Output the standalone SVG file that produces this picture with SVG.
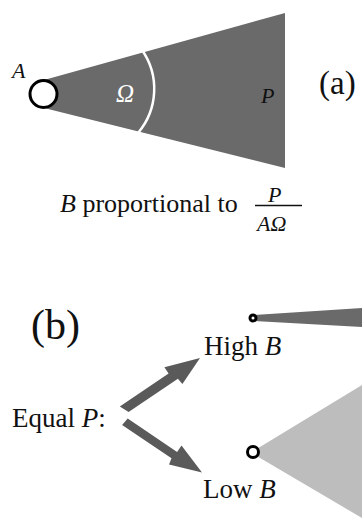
<svg xmlns="http://www.w3.org/2000/svg" width="362" height="523" viewBox="0 0 362 523" font-family="'Liberation Serif', 'Times New Roman', serif">
<style>
text{font-family:"Liberation Serif","Times New Roman",serif;fill:#111}
.i{font-style:italic}
.dark{fill:#6a6a6a}
.light{fill:#bdbdbd}
.ring{fill:#fff;stroke:#000;stroke-width:3}
.arr{fill:#5a5a5a}
</style>
<rect width="362" height="523" fill="#fff"/>
<g id="panel-a">
  <polygon class="dark" points="44,80 285,13 285,168 44,108"/>
  <path d="M142,50 A68,68 0 0 1 138,133" fill="none" stroke="#fff" stroke-width="2.5"/>
  <circle class="ring" cx="43.5" cy="94" r="13.5"/>
  <text class="i" x="12" y="78" font-size="22">A</text>
  <text class="i" x="116" y="102" font-size="25" style="fill:#fff">Ω</text>
  <text class="i" x="261" y="103" font-size="22">P</text>
  <text x="319" y="94" font-size="33">(a)</text>
</g>
<g id="formula">
  <text x="60" y="212" font-size="26"><tspan class="i">B</tspan> proportional to</text>
  <text class="i" x="268" y="202" font-size="22">P</text>
  <line x1="255" y1="205.5" x2="302" y2="205.5" stroke="#111" stroke-width="1.5"/>
  <text class="i" x="257" y="231" font-size="22">AΩ</text>
</g>
<g id="panel-b-label">
  <text x="31" y="339" font-size="42">(b)</text>
</g>
<g id="equal-p">
  <text x="12" y="427" font-size="27">Equal <tspan class="i">P</tspan>:</text>
</g>
<g id="high-b">
  <polygon class="dark" points="253,315 362,308 362,327 253,321"/>
  <circle class="ring" cx="253" cy="318" r="3" stroke-width="2"/>
  <text x="204" y="355" font-size="27">High <tspan class="i">B</tspan></text>
</g>
<g id="low-b">
  <polygon class="light" points="255,450 362,385 362,518 255,455"/>
  <circle class="ring" cx="253" cy="452" r="5.5" stroke-width="2.5"/>
  <text x="203" y="498" font-size="27">Low <tspan class="i">B</tspan></text>
</g>
<g id="connectors">
  <polygon class="arr" points="119.8,406.4 168.6,373.4 164.4,367.2 200,358 182.4,384.0 177.9,378.7 128.6,412.1"/>
  <polygon class="arr" points="127.7,418.5 177.1,451.9 181.5,445.6 202,472.5 169.0,464.6 171.5,458.3 122.1,424.9"/>
</g>
</svg>
